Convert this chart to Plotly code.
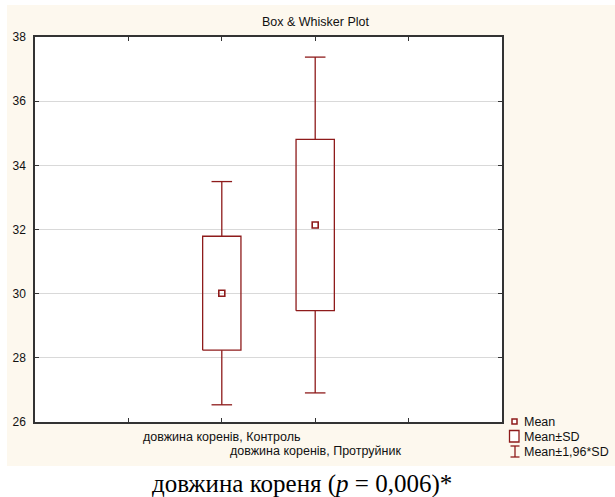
import plotly.graph_objects as go

categories = ["довжина коренів, Контроль", "довжина коренів, Протруйник"]
means = [30.015, 32.14]
sds = [1.775, 2.67]
y_ticks = [26, 28, 30, 32, 34, 36, 38]

RED = "#8E1B1B"
FONT = "Liberation Sans, Arial, sans-serif"

W, H = 615, 497
L, R, T, B = 35, 113, 37, 75
pw, ph = W - L - R, H - T - B

def px(xpix):
    return (xpix - L) / pw

def py(ypix):
    return (H - B - ypix) / ph

fig = go.Figure()

positions = [i + 2 for i in range(len(categories))]
BOX_HALF = 0.205
CAP_HALF = 0.11
for pos, m, s in zip(positions, means, sds):
    lo, hi = m - s, m + s
    wlo, whi = m - 1.96 * s, m + 1.96 * s
    xs = [pos - BOX_HALF, pos + BOX_HALF, pos + BOX_HALF, pos - BOX_HALF, pos - BOX_HALF, None,
          pos, pos, None, pos - CAP_HALF, pos + CAP_HALF, None,
          pos, pos, None, pos - CAP_HALF, pos + CAP_HALF]
    ys = [lo, lo, hi, hi, lo, None,
          hi, whi, None, whi, whi, None,
          lo, wlo, None, wlo, wlo]
    fig.add_trace(go.Scatter(x=xs, y=ys, mode="lines", line=dict(color=RED, width=1.3),
                             showlegend=False, hoverinfo="skip"))

fig.add_trace(go.Scatter(
    x=positions, y=means, mode="markers",
    marker=dict(symbol="square-open", size=6, color=RED, line=dict(width=1.6, color=RED)),
    showlegend=False, hoverinfo="skip",
))

shapes = [
    dict(type="rect", xref="paper", yref="paper", x0=px(7), x1=px(616), y0=py(466), y1=py(5),
         fillcolor="#FDF8EE", line=dict(width=0), layer="below"),
    dict(type="rect", xref="paper", yref="paper", x0=0, x1=1, y0=0, y1=1,
         fillcolor="white", line=dict(width=0), layer="below"),
    # legend glyphs
    dict(type="rect", xref="paper", yref="paper", x0=px(512), x1=px(517), y0=py(424), y1=py(419),
         fillcolor="white", line=dict(color=RED, width=1.5)),
    dict(type="rect", xref="paper", yref="paper", x0=px(509.5), x1=px(519), y0=py(442), y1=py(430.5),
         fillcolor="white", line=dict(color=RED, width=1.3)),
    dict(type="line", xref="paper", yref="paper", x0=px(515), x1=px(515), y0=py(457), y1=py(446),
         line=dict(color=RED, width=1.3)),
    dict(type="line", xref="paper", yref="paper", x0=px(510.5), x1=px(519.5), y0=py(446), y1=py(446),
         line=dict(color=RED, width=1.3)),
    dict(type="line", xref="paper", yref="paper", x0=px(510.5), x1=px(519.5), y0=py(457), y1=py(457),
         line=dict(color=RED, width=1.3)),
]

annotations = [
    dict(text="Box & Whisker Plot", xref="paper", yref="paper", x=px(315.5), y=py(22),
         showarrow=False, font=dict(family=FONT, size=12.5, color="#111"), xanchor="center", yanchor="middle"),
    dict(text="довжина кореня (<i>p</i> = 0,006)*", xref="paper", yref="paper", x=px(301.5), y=py(484),
         showarrow=False, font=dict(family="Liberation Serif, Times New Roman, serif", size=25, color="black"),
         xanchor="center", yanchor="middle"),
]
for k, (pos, cat) in enumerate(zip(positions, categories)):
    annotations.append(dict(text=cat, xref="x", yref="paper", x=pos, y=py(437 + 14 * k),
                            showarrow=False, font=dict(family=FONT, size=12.5, color="#111"),
                            xanchor="center", yanchor="middle"))
for k, lab in enumerate(["Mean", "Mean±SD", "Mean±1,96*SD"]):
    annotations.append(dict(text=lab, xref="paper", yref="paper", x=px(522), y=py(422 + 15 * k),
                            showarrow=False, font=dict(family=FONT, size=12.5, color="#111"),
                            xanchor="left", yanchor="middle"))

fig.update_layout(
    width=W, height=H, margin=dict(l=L, r=R, t=T, b=B, pad=0),
    paper_bgcolor="white", plot_bgcolor="rgba(0,0,0,0)",
    shapes=shapes, annotations=annotations, showlegend=False,
    xaxis=dict(range=[0, 5], tickvals=[0, 1, 2, 3, 4, 5], showticklabels=False,
               ticks="inside", ticklen=4, tickcolor="#333", showgrid=False, zeroline=False,
               showline=True, linecolor="#333", linewidth=1.5, mirror="allticks"),
    yaxis=dict(range=[26, 38], tickvals=y_ticks, ticks="inside", ticklen=4, tickcolor="#333",
               showgrid=True, gridcolor="#D9D9D9", gridwidth=1, zeroline=False,
               showline=True, linecolor="#333", linewidth=1.5, mirror="allticks",
               tickfont=dict(family=FONT, size=12, color="#111"), ticklabelstandoff=5),
)

fig.write_html("out.html")
